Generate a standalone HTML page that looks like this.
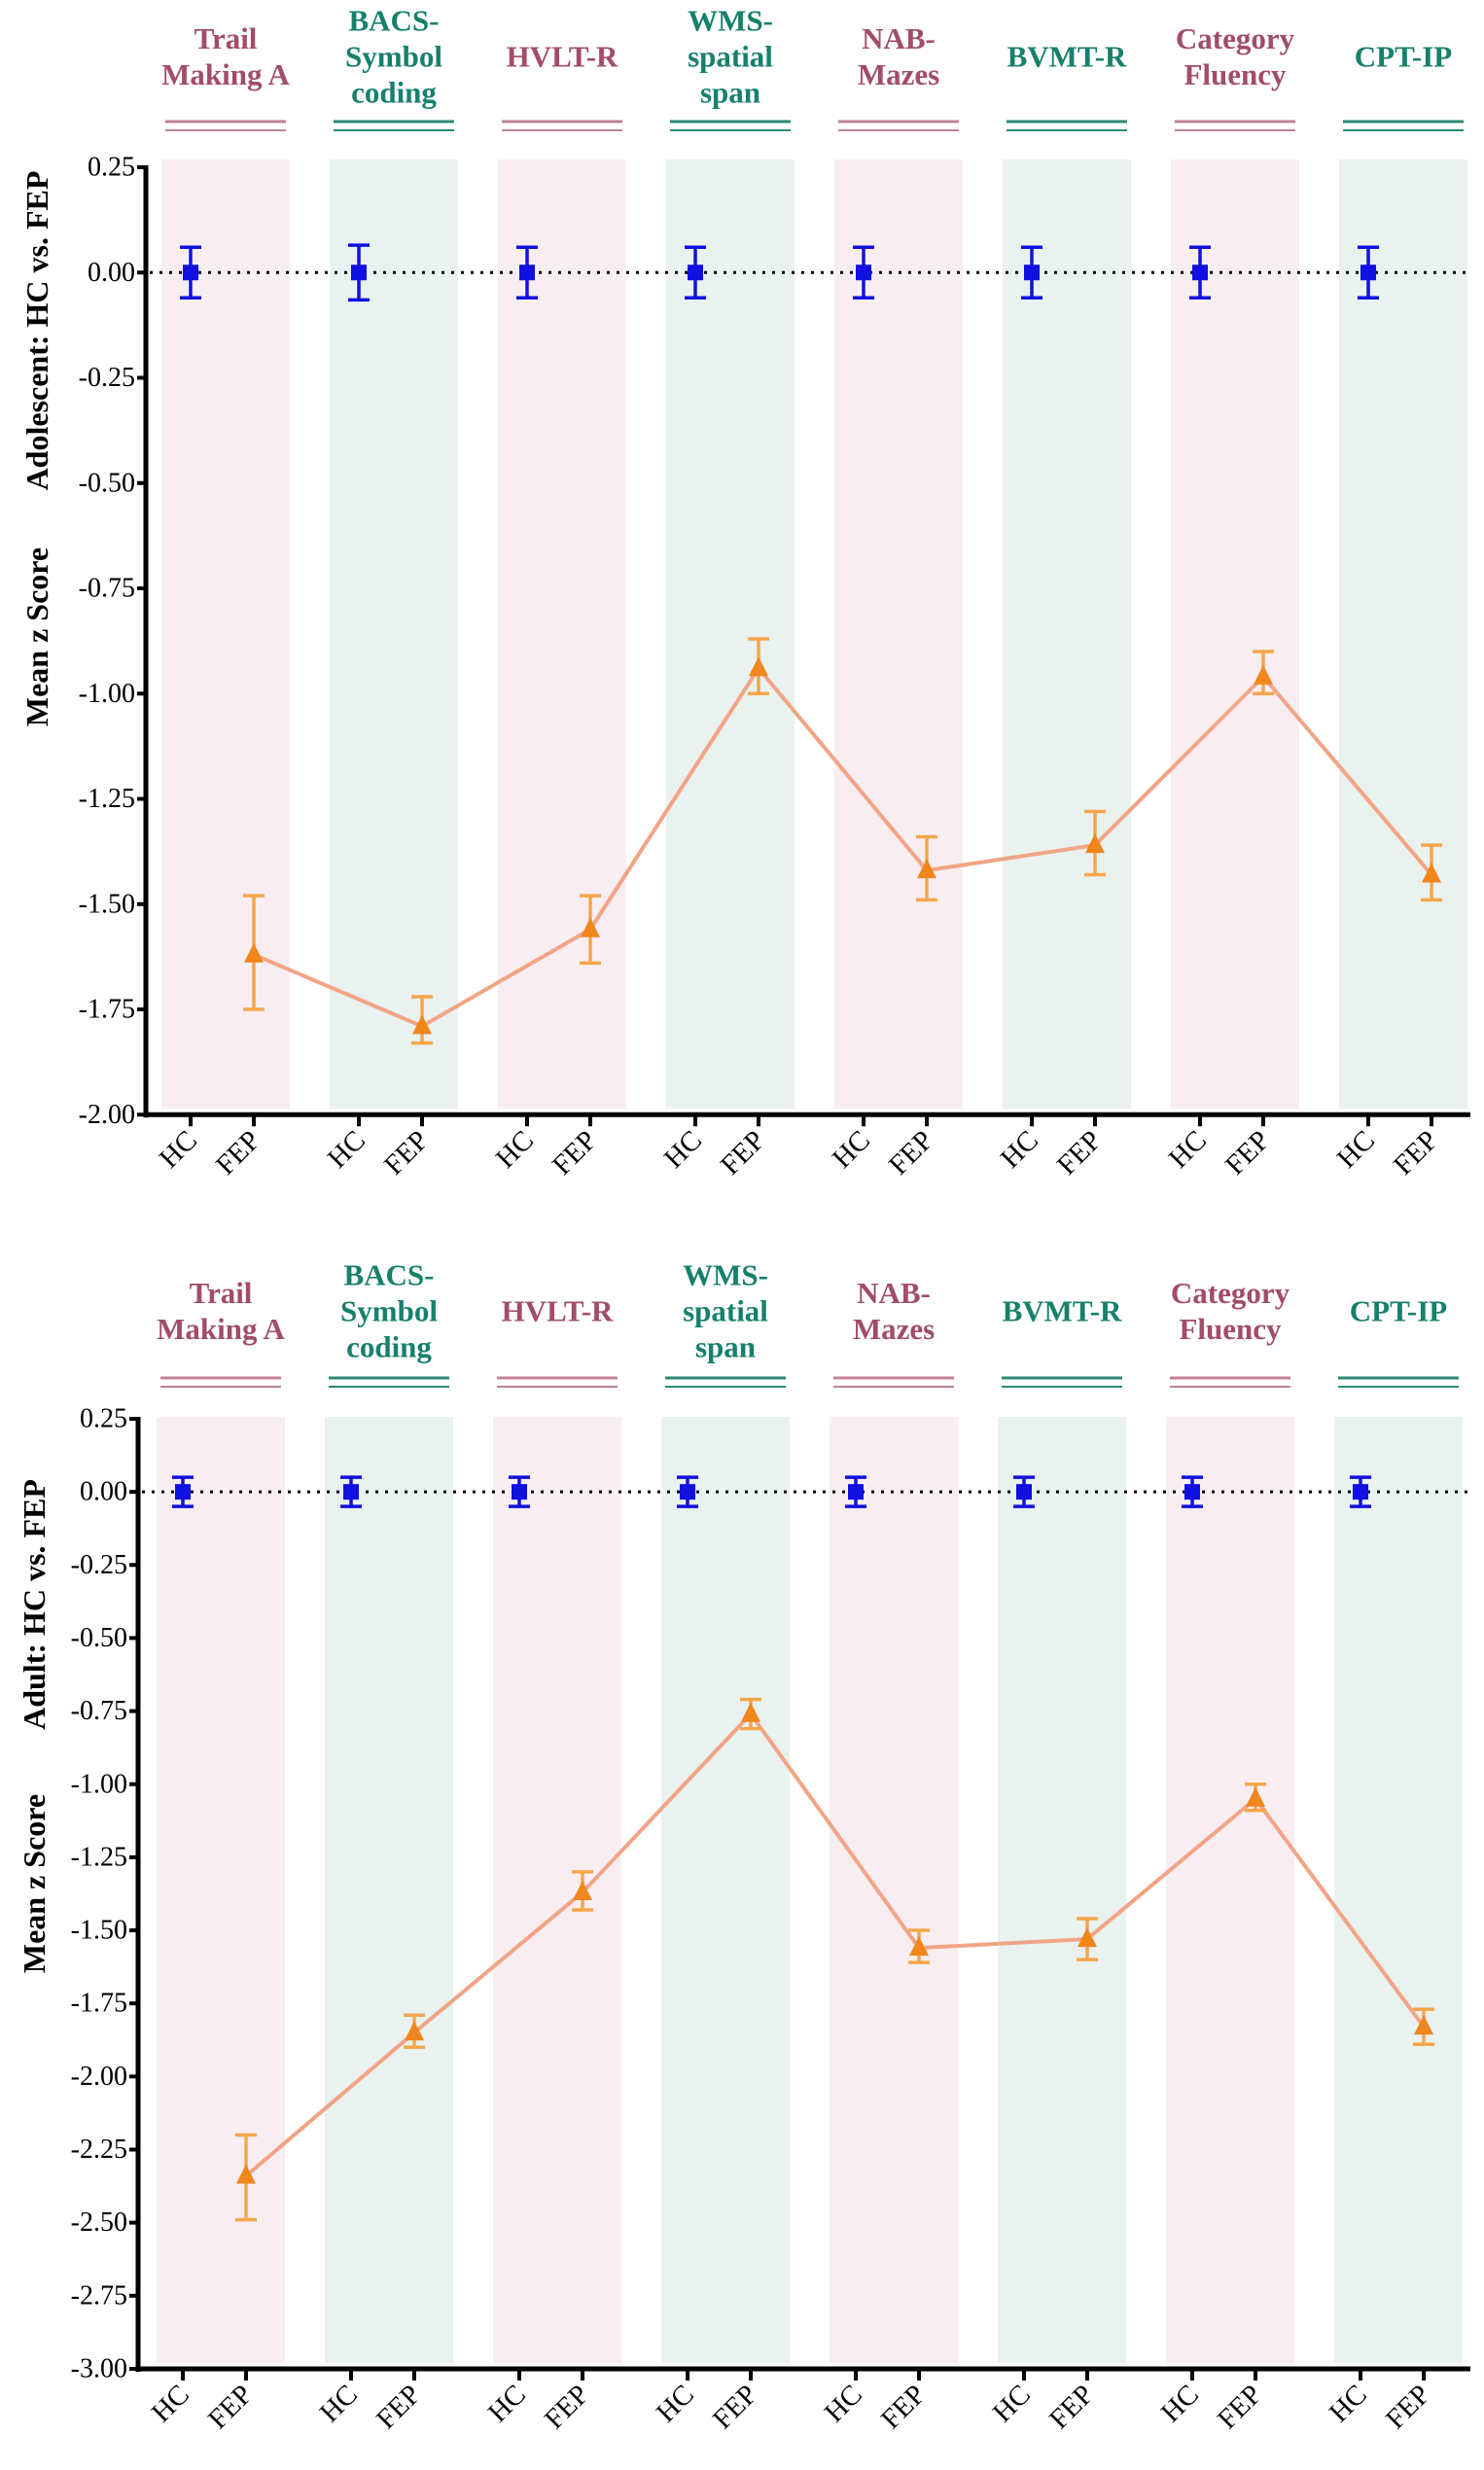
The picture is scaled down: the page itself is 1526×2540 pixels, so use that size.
<!DOCTYPE html>
<html><head><meta charset="utf-8"><style>
html,body{margin:0;padding:0;background:#fff;}
svg{display:block;}
text{font-family:"Liberation Serif",serif;}
</style></head>
<body>
<svg id="fig" width="1526" height="2540" viewBox="0 0 1526 2540" xmlns="http://www.w3.org/2000/svg"></svg>
<script>
const NS="http://www.w3.org/2000/svg";
const categories=[["Trail","Making A"],["BACS-","Symbol","coding"],["HVLT-R"],["WMS-","spatial","span"],["NAB-","Mazes"],["BVMT-R"],["Category","Fluency"],["CPT-IP"]];
const groups=["HC","FEP"];
const adolHC=[0,0,0,0,0,0,0,0];
const adolHCerr=[0.06,0.065,0.06,0.06,0.06,0.06,0.06,0.06];
const adolFEP=[-1.62,-1.79,-1.56,-0.94,-1.42,-1.36,-0.96,-1.43];
const adolFEPhi=[-1.48,-1.72,-1.48,-0.87,-1.34,-1.28,-0.90,-1.36];
const adolFEPlo=[-1.75,-1.83,-1.64,-1.00,-1.49,-1.43,-1.00,-1.49];
const adultHC=[0,0,0,0,0,0,0,0];
const adultHCerr=[0.05,0.05,0.05,0.05,0.05,0.05,0.05,0.05];
const adultFEP=[-2.34,-1.85,-1.37,-0.76,-1.56,-1.53,-1.05,-1.83];
const adultFEPhi=[-2.20,-1.79,-1.30,-0.71,-1.50,-1.46,-1.00,-1.77];
const adultFEPlo=[-2.49,-1.90,-1.43,-0.81,-1.61,-1.60,-1.09,-1.89];
const adolTicks=["0.25","0.00","-0.25","-0.50","-0.75","-1.00","-1.25","-1.50","-1.75","-2.00"];
const adultTicks=["0.25","0.00","-0.25","-0.50","-0.75","-1.00","-1.25","-1.50","-1.75","-2.00","-2.25","-2.50","-2.75","-3.00"];

const svg=document.getElementById('fig');
function el(tag,attrs,parent,txt){const e=document.createElementNS(NS,tag);for(const k in attrs)e.setAttribute(k,attrs[k]);if(txt!==undefined)e.textContent=txt;(parent||svg).appendChild(e);return e;}

function panel(o){
  const g=el('g',{});
  
  
  const y=v=>o.y0+(0.25-v)*o.ppu;
  const bandX=i=>o.bandL+i*173;
  const hcX=i=>o.hcX+i*173;
  const fepX=i=>o.hcX+65+i*173;
  const yMin=parseFloat(o.ticks[o.ticks.length-1]);
  const axisBottom=y(yMin);
  categories.forEach((c,i)=>{
    const pink=i%2===0;
    const b=el('rect',{x:bandX(i),y:o.bandTop,width:132,height:axisBottom-6-o.bandTop,fill:pink?'#f8eef2':'#e9f2ef'},g);
    
    
    const cx=bandX(i)+66;
    const col=pink?'#a24c6b':'#17806b';
    const n=c.length;
    const lg=el('g',{},g);
    
    
    c.forEach((t,k)=>{
      el('text',{x:cx,y:o.labelMid+(k-(n-1)/2)*37,'text-anchor':'middle','dominant-baseline':'central','font-size':31,'font-weight':'bold',fill:col},lg,t);
    });
    const lc=pink?'#c0809a':'#2a8a74';
    el('line',{x1:cx-62,x2:cx+62,y1:o.lineY,y2:o.lineY,stroke:lc,'stroke-width':3},lg);
    el('line',{x1:cx-62,x2:cx+62,y1:o.lineY+9,y2:o.lineY+9,stroke:lc,'stroke-width':2},lg);
  });
  const ax=el('line',{x1:o.axX,x2:o.axX,y1:y(0.25)-2,y2:axisBottom+3,stroke:'#000','stroke-width':5},g);
  
  const xa=el('line',{x1:o.axX-2,x2:1512,y1:axisBottom,y2:axisBottom,stroke:'#000','stroke-width':5},g);
  
  o.ticks.forEach(t=>{
    const v=parseFloat(t);
    el('line',{x1:o.axX-9,x2:o.axX,y1:y(v),y2:y(v),stroke:'#000','stroke-width':4},g);
    const tl=el('text',{x:o.axX-11,y:y(v),'text-anchor':'end','dominant-baseline':'central','font-size':28,fill:'#000'},g,t);
    
  });
  categories.forEach((c,i)=>{
    [hcX(i),fepX(i)].forEach((x,k)=>{
      el('line',{x1:x,x2:x,y1:axisBottom,y2:axisBottom+12,stroke:'#000','stroke-width':4},g);
      const tl=el('text',{x:x+8,y:axisBottom+28,'text-anchor':'end','font-size':29,fill:'#000',transform:`rotate(-45 ${x+8} ${axisBottom+28})`},g,groups[k]);
      
    });
  });
  const yt=el('text',{x:0,y:0,'text-anchor':'middle','dominant-baseline':'central','font-size':32,'font-weight':'bold',transform:`translate(${o.titleX} ${o.title1Y}) rotate(-90)`},g,o.title1);
  
  const yt2=el('text',{x:0,y:0,'text-anchor':'middle','dominant-baseline':'central','font-size':32,'font-weight':'bold',transform:`translate(${o.titleX} ${o.title2Y}) rotate(-90)`},g,'Mean z Score');
  
  const zl=el('line',{x1:o.axX+4,x2:1512,y1:y(0),y2:y(0),stroke:'#000','stroke-width':3,'stroke-dasharray':'3 7'},g);
  
  const pts=o.fep.map((v,i)=>fepX(i)+','+y(v)).join(' ');
  const pl=el('polyline',{points:pts,fill:'none',stroke:'#f2a486','stroke-width':4},g);
  
  o.hc.forEach((v,i)=>{
    const x=hcX(i),e=o.hcErr[i];
    const pg=el('g',{stroke:'#1010e0','stroke-width':3.5},g);
    
    el('line',{x1:x,x2:x,y1:y(v+e),y2:y(v-e)},pg);
    el('line',{x1:x-11,x2:x+11,y1:y(v+e),y2:y(v+e)},pg);
    el('line',{x1:x-11,x2:x+11,y1:y(v-e),y2:y(v-e)},pg);
    el('rect',{x:x-8,y:y(v)-8,width:16,height:16,fill:'#1010e0',stroke:'none'},pg);
  });
  o.fep.forEach((v,i)=>{
    const x=fepX(i);
    const pg=el('g',{stroke:'#f5a64a','stroke-width':3.5},g);
    
    el('line',{x1:x,x2:x,y1:y(o.hi[i]),y2:y(o.lo[i])},pg);
    el('line',{x1:x-11,x2:x+11,y1:y(o.hi[i]),y2:y(o.hi[i])},pg);
    el('line',{x1:x-11,x2:x+11,y1:y(o.lo[i]),y2:y(o.lo[i])},pg);
    const yy=y(v);
    el('polygon',{points:`${x},${yy-12} ${x-10},${yy+8} ${x+10},${yy+8}`,fill:'#f0861c',stroke:'none'},pg);
  });
}
panel({name:'adolescent-panel',y0:172,ppu:433,ticks:adolTicks,axX:150,bandL:166,bandTop:164,hcX:196,labelMid:58,lineY:125,
  title1:'Adolescent: HC vs. FEP',titleX:38,title1Y:340,title2Y:655,hc:adolHC,hcErr:adolHCerr,fep:adolFEP,hi:adolFEPhi,lo:adolFEPlo});
panel({name:'adult-panel',y0:1459,ppu:300.6,ticks:adultTicks,axX:142,bandL:161,bandTop:1457,hcX:188,labelMid:1348,lineY:1417,
  title1:'Adult: HC vs. FEP',titleX:35,title1Y:1650,title2Y:1937,hc:adultHC,hcErr:adultHCerr,fep:adultFEP,hi:adultFEPhi,lo:adultFEPlo});
</script>
</body></html>
